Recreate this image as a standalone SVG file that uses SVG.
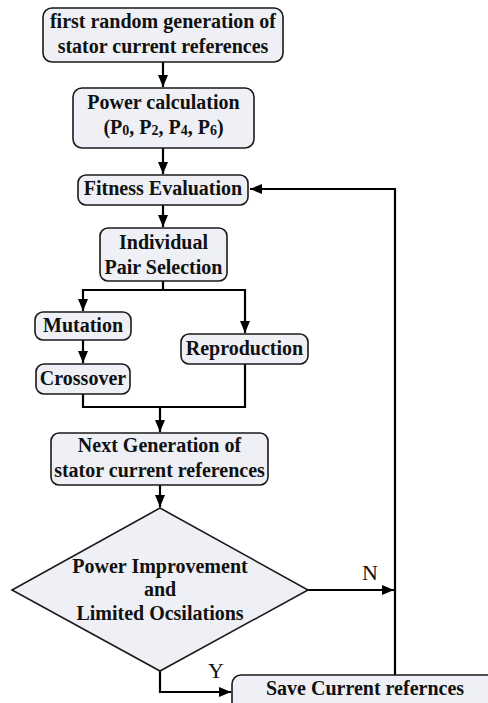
<svg xmlns="http://www.w3.org/2000/svg" width="488" height="703" viewBox="0 0 488 703">
  <defs>
    <marker id="arrow" viewBox="0 0 12 10" refX="12" refY="5" markerWidth="12" markerHeight="10" markerUnits="userSpaceOnUse" orient="auto">
      <path d="M0,0 L12,5 L0,10 Z" fill="#000"/>
    </marker>
    <style>
      .box { fill: #eef0f5; stroke: #1a1a1a; stroke-width: 1.6; }
      .lbl { font-family: "Liberation Serif", "Times New Roman", serif; font-weight: bold; font-size: 20px; fill: #111; text-anchor: middle; }
      .sub { font-size: 14px; }
      .yn { font-family: "Liberation Serif", "Times New Roman", serif; font-size: 22px; fill: #111; text-anchor: middle; }
      .wire { fill: none; stroke: #000; stroke-width: 2.2; }
    </style>
  </defs>
  <rect width="488" height="703" fill="#fff"/>

  <g id="connectors">
    <line class="wire" x1="163" y1="62" x2="163" y2="87" marker-end="url(#arrow)"/>
    <line class="wire" x1="163" y1="148" x2="163" y2="174" marker-end="url(#arrow)"/>
    <line class="wire" x1="163" y1="205" x2="163" y2="227" marker-end="url(#arrow)"/>
    <polyline class="wire" points="163,281 163,290 83,290 83,311" marker-end="url(#arrow)"/>
    <polyline class="wire" points="163,290 245,290 245,333" marker-end="url(#arrow)"/>
    <line class="wire" x1="83" y1="340" x2="83" y2="363" marker-end="url(#arrow)"/>
    <polyline class="wire" points="83,394 83,407 245,407 245,364"/>
    <line class="wire" x1="160" y1="407" x2="160" y2="432" marker-end="url(#arrow)"/>
    <line class="wire" x1="160" y1="485" x2="160" y2="507" marker-end="url(#arrow)"/>
    <line class="wire" x1="308" y1="590" x2="394" y2="590" marker-end="url(#arrow)"/>
    <polyline class="wire" points="395,675 395,189 250,189" marker-end="url(#arrow)"/>
    <polyline class="wire" points="160,671 160,692 231,692" marker-end="url(#arrow)"/>
    <text class="yn" x="370" y="580">N</text>
    <text class="yn" x="216" y="678">Y</text>
  </g>

  <g id="init">
    <rect class="box" x="43" y="8" width="240" height="54" rx="9"/>
    <text class="lbl" x="163" y="28">first random generation of</text>
    <text class="lbl" x="163" y="53">stator current references</text>
  </g>

  <g id="power">
    <rect class="box" x="73" y="88" width="181" height="60" rx="9"/>
    <text class="lbl" x="163.5" y="109">Power calculation</text>
    <text class="lbl" x="163.5" y="134">(P<tspan class="sub" dy="1">0</tspan><tspan dy="-1">, P</tspan><tspan class="sub" dy="1">2</tspan><tspan dy="-1">, P</tspan><tspan class="sub" dy="1">4</tspan><tspan dy="-1">, P</tspan><tspan class="sub" dy="1">6</tspan><tspan dy="-1">)</tspan></text>
  </g>

  <g id="fitness">
    <rect class="box" x="78" y="175" width="170" height="30" rx="8"/>
    <text class="lbl" x="163" y="195">Fitness Evaluation</text>
  </g>

  <g id="selection">
    <rect class="box" x="100" y="228" width="127" height="53" rx="8"/>
    <text class="lbl" x="163.5" y="249">Individual</text>
    <text class="lbl" x="163.5" y="274">Pair Selection</text>
  </g>

  <g id="mutation">
    <rect class="box" x="35" y="312" width="96" height="28" rx="8"/>
    <text class="lbl" x="83" y="332">Mutation</text>
  </g>

  <g id="crossover">
    <rect class="box" x="36" y="364" width="94" height="30" rx="8"/>
    <text class="lbl" x="83" y="385">Crossover</text>
  </g>

  <g id="reproduction">
    <rect class="box" x="181" y="334" width="127" height="30" rx="8"/>
    <text class="lbl" x="244.5" y="355">Reproduction</text>
  </g>

  <g id="next-generation">
    <rect class="box" x="51" y="433" width="217" height="52" rx="8"/>
    <text class="lbl" x="159.5" y="452">Next Generation of</text>
    <text class="lbl" x="159.5" y="477">stator current references</text>
  </g>

  <g id="decision">
    <polygon class="box" points="160,508 308,590 160,671 12,590" stroke-width="1.3"/>
    <text class="lbl" x="160" y="573">Power Improvement</text>
    <text class="lbl" x="160" y="596">and</text>
    <text class="lbl" x="160" y="620">Limited Ocsilations</text>
  </g>

  <g id="save">
    <rect class="box" x="232" y="675" width="270" height="40" rx="9"/>
    <text class="lbl" x="365" y="695">Save Current refernces</text>
  </g>
</svg>
